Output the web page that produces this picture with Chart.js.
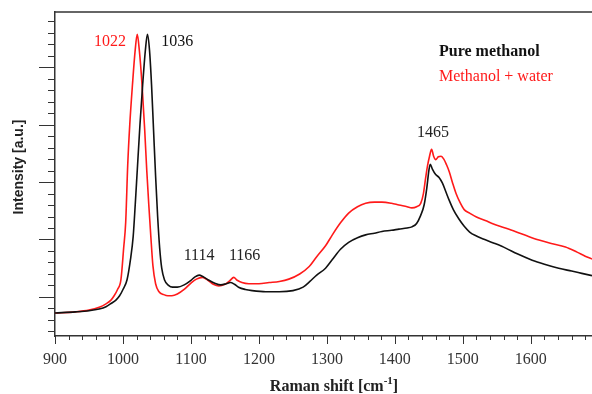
<!DOCTYPE html>
<html lang="en">
<head>
<meta charset="UTF-8">
<title>Raman spectra - methanol</title>
<script src="https://cdn.jsdelivr.net/npm/chart.js"></script>
<style>
  html, body { margin: 0; padding: 0; background: #fff; }
</style>
</head>
<body>
<canvas id="spectrum" width="592" height="394"></canvas>
<script>
  // Raman shift (cm-1) and intensity (a.u.)
  const shiftPure = [900, 930, 950, 965, 975, 983, 990, 995, 1000, 1006,
    1011, 1015, 1018, 1021, 1025, 1029, 1033, 1036, 1039, 1042,
    1045, 1048, 1051, 1054, 1057, 1061, 1067, 1073, 1080, 1090,
    1100, 1106, 1112, 1118, 1125, 1135, 1144, 1152, 1158, 1164,
    1170, 1180, 1190, 1210, 1230, 1250, 1265, 1275, 1285, 1298,
    1308, 1320, 1332, 1345, 1357, 1370, 1381, 1395, 1406, 1418,
    1425, 1432, 1438, 1443, 1447, 1450, 1452, 1455, 1460, 1465,
    1470, 1475, 1480, 1486, 1494, 1502, 1510, 1520, 1530, 1545,
    1563, 1580, 1602, 1620, 1641, 1660, 1675, 1690];
  const intensityPure = [7.2, 7.4, 7.6, 7.9, 8.3, 8.9, 9.5, 10.2, 11.3, 13.0,
    16.5, 20.5, 26, 32, 40, 47, 53, 55.7, 53, 47,
    39, 31, 24, 18.5, 15.0, 13.0, 12.0, 11.7, 11.7, 12.1,
    12.9, 13.5, 13.8, 13.5, 13.0, 12.4, 12.1, 12.3, 12.5, 12.2,
    11.7, 11.3, 11.1, 10.9, 10.9, 11.1, 11.7, 12.7, 13.8, 15.0,
    16.5, 18.3, 19.5, 20.3, 20.8, 21.1, 21.4, 21.6, 21.8, 22.0,
    22.2, 22.8, 24.2, 26, 29, 32, 33.1, 32.3, 31.3, 30.8,
    29.8, 28.3, 26.8, 25.2, 23.6, 22.3, 21.3, 20.6, 20.1, 19.4,
    18.5, 17.5, 16.4, 15.7, 15.0, 14.5, 14.1, 13.7];

  const shiftMix = [900, 930, 950, 965, 975, 982, 987, 992, 997, 1001,
    1004, 1007, 1010, 1014, 1018, 1021, 1024, 1028, 1032, 1035,
    1038, 1041, 1044, 1048, 1053, 1060, 1066, 1072, 1080, 1090,
    1100, 1108, 1117, 1125, 1133, 1141, 1150, 1157, 1163, 1168,
    1175, 1185, 1200, 1215, 1230, 1244, 1260, 1274, 1285, 1298,
    1308, 1320, 1332, 1345, 1357, 1370, 1381, 1395, 1406, 1418,
    1425, 1432, 1438, 1442, 1445, 1448, 1451, 1454, 1457, 1460,
    1464, 1468, 1472, 1476, 1480, 1485, 1490, 1496, 1502, 1510,
    1520, 1533, 1545, 1560, 1577, 1595, 1612, 1630, 1651, 1668,
    1680, 1690];
  const intensityMix = [7.2, 7.4, 7.7, 8.2, 8.8, 9.4, 10.2, 11.3, 13.0, 18.5,
    23, 33, 40, 47, 53, 55.7, 53, 47, 39, 32,
    26, 20.5, 15.5, 12.3, 10.9, 10.4, 10.2, 10.2, 10.5, 11.3,
    12.4, 13.1, 13.4, 12.9, 12.2, 11.9, 12.2, 12.8, 13.4, 12.9,
    12.5, 12.3, 12.3, 12.5, 12.7, 13.1, 14.0, 15.3, 17.0, 18.9,
    20.8, 22.9, 24.6, 25.7, 26.3, 26.5, 26.5, 26.3, 26.0, 25.7,
    25.5, 25.7, 26.3, 28, 30.5, 32.8, 34.5, 35.7, 34.5, 33.9,
    34.4, 34.5, 34.0, 33.0, 31.8, 29.8, 28, 26.4, 25.2, 24.6,
    23.9, 23.3, 22.7, 22.1, 21.4, 20.6, 19.9, 19.3, 18.7, 17.8,
    17.1, 16.6];

  const seriesNames = ['Pure methanol', 'Methanol + water'];
  const xLabels = [900, 1000, 1100, 1200, 1300, 1400, 1500, 1600];
  const peakNames = ['1022', '1036', '1114', '1166', '1465'];

  const frameColor = '#333';
  const pureColor = '#111';
  const mixColor = '#ff1a1a';
  const serif = "'Liberation Serif', 'DejaVu Serif', serif";

  // peak labels anchored in data coordinates
  const peakSpots = [
    { x: 981, y: 54.5, color: mixColor },
    { x: 1080, y: 54.5, color: pureColor },
    { x: 1112, y: 17.1, color: '#222' },
    { x: 1179, y: 17.1, color: '#222' },
    { x: 1456, y: 38.5, color: '#222' }
  ];

  const toPoints = (xs, ys) => xs.map((v, i) => ({ x: v, y: ys[i] }));

  const decorations = {
    id: 'decorations',
    afterDraw(chart) {
      const { ctx, chartArea: a, scales: { x, y } } = chart;
      ctx.save();

      // top frame + tick marks
      ctx.strokeStyle = frameColor;
      ctx.lineWidth = 1.5;
      ctx.beginPath();
      ctx.moveTo(a.left, a.top);
      ctx.lineTo(a.right, a.top);
      ctx.stroke();

      ctx.lineWidth = 1;
      ctx.beginPath();
      for (let v = 4; v <= 58; v += 2) {
        const py = Math.round(y.getPixelForValue(v)) + 0.5;
        const len = v % 10 === 0 ? 16 : 7;
        ctx.moveTo(a.left - len, py);
        ctx.lineTo(a.left, py);
      }
      for (let v = 900; v <= 1680; v += 20) {
        const px = Math.round(x.getPixelForValue(v)) + 0.5;
        const len = v % 100 === 0 ? 8 : 4;
        ctx.moveTo(px, a.bottom);
        ctx.lineTo(px, a.bottom + len);
      }
      ctx.stroke();

      // peak labels
      ctx.font = '16px ' + serif;
      ctx.textAlign = 'center';
      ctx.textBaseline = 'middle';
      peakNames.forEach((t, i) => {
        const p = peakSpots[i];
        ctx.fillStyle = p.color;
        ctx.fillText(t, x.getPixelForValue(p.x), y.getPixelForValue(p.y));
      });

      // legend (text only)
      ctx.textAlign = 'left';
      ctx.font = 'bold 16px ' + serif;
      ctx.fillStyle = pureColor;
      ctx.fillText(seriesNames[0], 439, 52);
      ctx.font = '16px ' + serif;
      ctx.fillStyle = mixColor;
      ctx.fillText(seriesNames[1], 439, 77);

      // x title with superscript
      ctx.fillStyle = '#222';
      ctx.textBaseline = 'alphabetic';
      const main = 'Raman shift [cm';
      ctx.font = 'bold 16px ' + serif;
      const w1 = ctx.measureText(main).width;
      const w3 = ctx.measureText(']').width;
      ctx.font = 'bold 11px ' + serif;
      const w2 = ctx.measureText('-1').width;
      let sx = 334 - (w1 + w2 + w3) / 2;
      ctx.font = 'bold 16px ' + serif;
      ctx.fillText(main, sx, 391);
      ctx.font = 'bold 11px ' + serif;
      ctx.fillText('-1', sx + w1, 384);
      ctx.font = 'bold 16px ' + serif;
      ctx.fillText(']', sx + w1 + w2, 391);

      // y title
      ctx.translate(19, 167);
      ctx.rotate(-Math.PI / 2);
      ctx.textAlign = 'center';
      ctx.textBaseline = 'middle';
      ctx.font = "bold 14px 'Liberation Sans', Arial, sans-serif";
      ctx.fillText('Intensity [a.u.]', 0, 0);

      ctx.restore();
    }
  };

  new Chart(document.getElementById('spectrum'), {
    type: 'line',
    data: {
      datasets: [
        {
          label: seriesNames[0],
          data: toPoints(shiftPure, intensityPure),
          borderColor: pureColor,
          borderWidth: 1.6,
          pointRadius: 0,
          cubicInterpolationMode: 'monotone',
          order: 0
        },
        {
          label: seriesNames[1],
          data: toPoints(shiftMix, intensityMix),
          borderColor: mixColor,
          borderWidth: 1.6,
          pointRadius: 0,
          cubicInterpolationMode: 'monotone',
          order: 1
        }
      ]
    },
    options: {
      responsive: false,
      animation: false,
      devicePixelRatio: 1,
      layout: { padding: { top: 12, right: 0, left: 0, bottom: 0 } },
      plugins: { legend: { display: false }, tooltip: { enabled: false } },
      scales: {
        x: {
          type: 'linear',
          min: 900,
          max: 1690,
          afterBuildTicks: s => { s.ticks = xLabels.map(v => ({ value: v })); },
          afterFit: s => { s.height = 58; },
          grid: { display: false, drawTicks: false },
          border: { display: true, color: frameColor, width: 1.5 },
          ticks: {
            autoSkip: false,
            maxRotation: 0,
            padding: 14,
            color: '#333',
            font: { family: serif, size: 16 },
            callback: v => String(v)
          }
        },
        y: {
          min: 3.2,
          max: 59.6,
          afterFit: s => { s.width = 55; },
          grid: { display: false, drawTicks: false },
          border: { display: true, color: frameColor, width: 1.5 },
          ticks: { display: false }
        }
      }
    },
    plugins: [decorations]
  });
</script>
</body>
</html>
